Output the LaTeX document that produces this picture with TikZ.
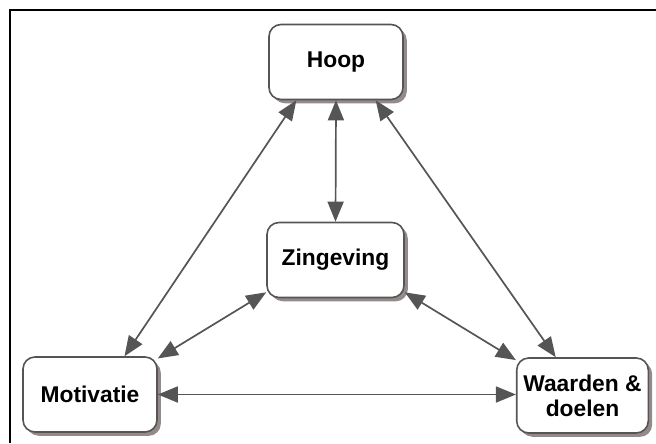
\documentclass[tikz,border=0pt]{standalone}
\usepackage{fontspec}
\setmainfont{Liberation Sans}
\usetikzlibrary{arrows.meta,shadows}
\definecolor{linegray}{HTML}{555555}
\definecolor{shadowgray}{HTML}{948A8A}
\begin{document}
\begin{tikzpicture}[x=.5pt,y=-.5pt,
		box/.style={draw=linegray, line width=.8pt, fill=white, rounded corners=6pt,
			minimum width=67pt, minimum height=37.5pt, align=center,
			font=\fontsize{11.4}{12.5}\selectfont\bfseries,
			drop shadow={shadow xshift=1.9pt, shadow yshift=-1.9pt, fill=shadowgray, opacity=1}},
		link/.style={linegray, line width=.85pt, {Triangle[length=10pt,width=8pt]}-{Triangle[length=10pt,width=8pt]}}]
	\useasboundingbox (0,0) rectangle (656,443);
	% frame
	\draw[line width=1pt] (10,443) -- (10,10) -- (656,10);
	% boxes
	\node[box] (hoop) at (336,62) {Hoop};
	\node[box, minimum width=68.5pt] (zing) at (335.5,260) {Zingeving};
	\node[box] (moti) at (90,394.5) {Motivatie};
	\node[box, minimum width=64.5pt] (waar) at (582.5,395.5) {Waarden \&\\doelen};
	% arrows
	\draw[link] (hoop.south) -- (zing.north);
	\draw[link] (hoop.224) -- (moti.48);
	\draw[link] (hoop.316) -- (waar.125);
	\draw[link] (zing.205) -- (moti.28);
	\draw[link] (zing.-25) -- (waar.152);
	\draw[link] (moti.east) -- (moti.east -| waar.west);
\end{tikzpicture}
\end{document}
